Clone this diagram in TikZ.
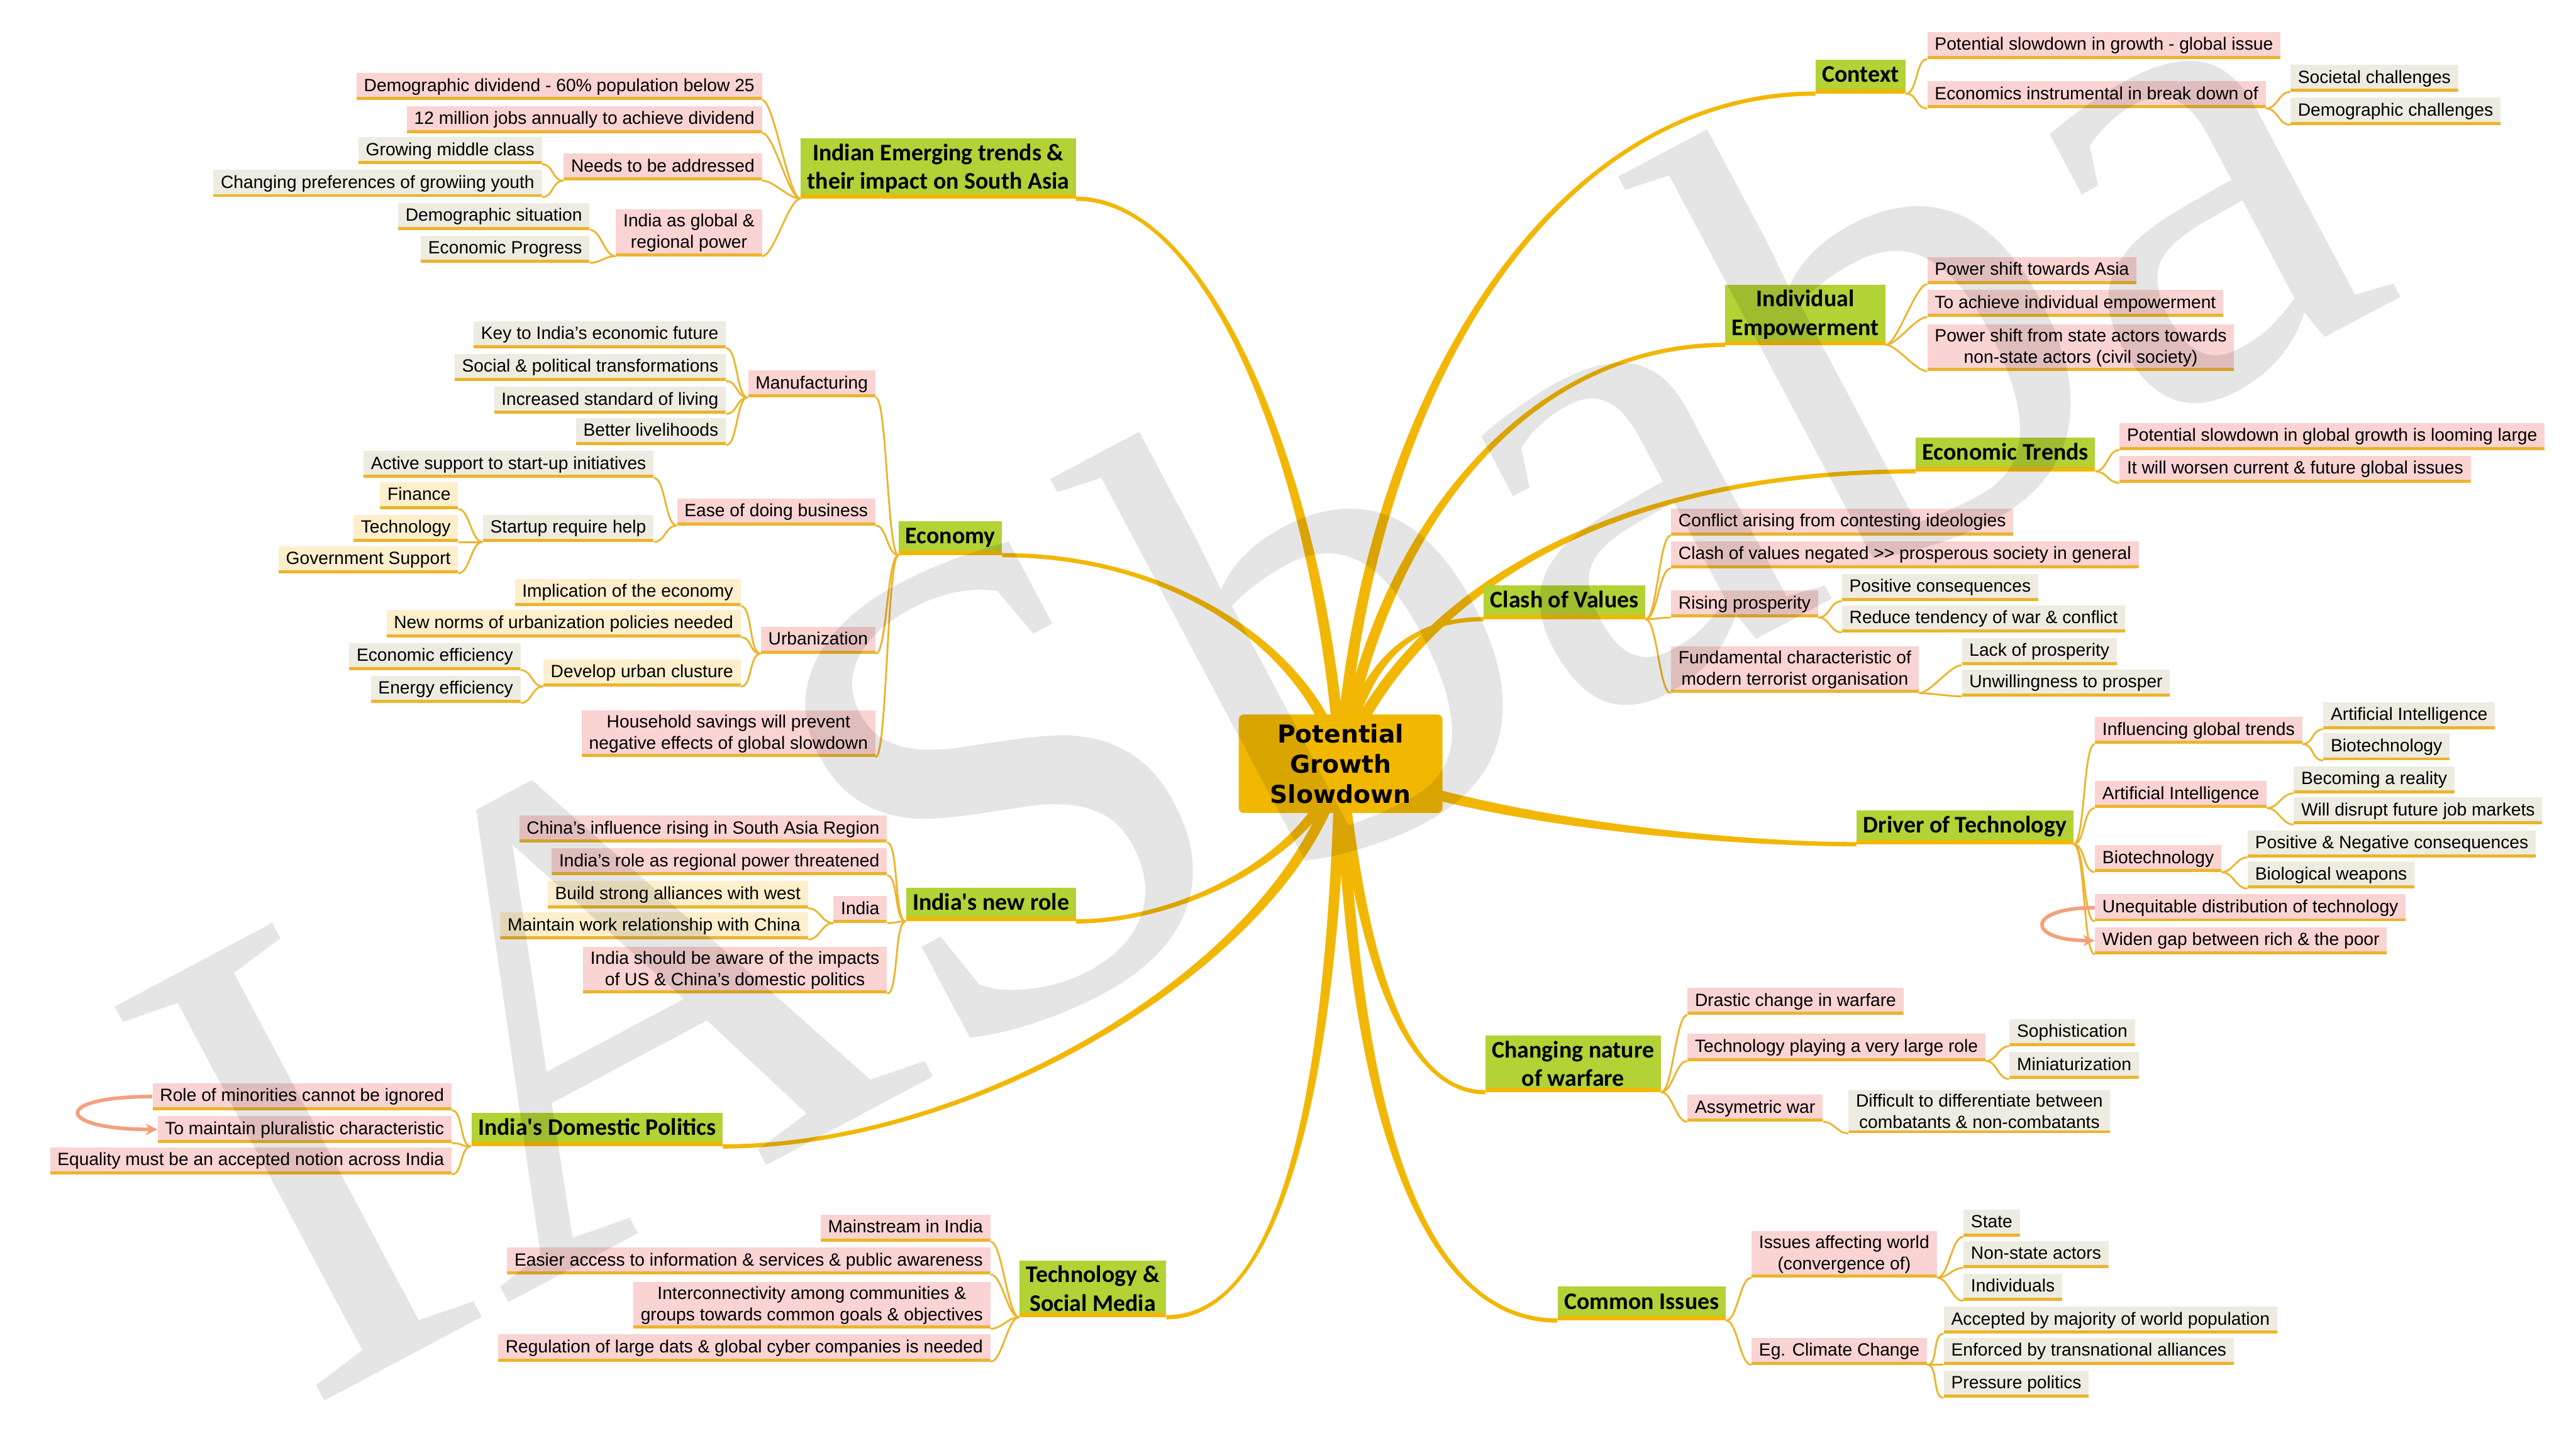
\documentclass[tikz,border=0pt]{standalone}
\usepackage{fontspec}
\setmainfont{Liberation Sans}
\newfontfamily\carlito{Carlito}
\newfontfamily\dejavu{DejaVu Sans}
\newfontfamily\wmserif{Liberation Serif}
\usetikzlibrary{calc,arrows.meta}
\pgfdeclarelayer{bg}
\pgfdeclarelayer{fg}
\pgfsetlayers{bg,main,fg}
\definecolor{maingold}{HTML}{F2B705}
\definecolor{leafline}{HTML}{EDB42C}
\definecolor{greenc}{HTML}{B2D235}
\definecolor{pinkc}{HTML}{FAD3D3}
\definecolor{beigec}{HTML}{EEECE1}
\definecolor{creamc}{HTML}{FDEFCB}
\definecolor{arrowc}{HTML}{F4A07C}
\definecolor{centerc}{HTML}{F2B800}
\tikzset{
  leaf/.style={font=\fontsize{10.8}{13}\selectfont, inner xsep=4.5pt, inner ysep=2.6pt,
    text height=8.5pt, text depth=2.6pt,
    path picture={\draw[leafline, line width=3.4pt] (path picture bounding box.south west) -- (path picture bounding box.south east);}},
  pk/.style={leaf, fill=pinkc},
  bg/.style={leaf, fill=beigec},
  cr/.style={leaf, fill=creamc},
  two/.style={align=center, text height={}, text depth={}},
  mainnode/.style={fill=greenc, font=\carlito\bfseries\fontsize{14.5}{17.5}\selectfont,
    inner xsep=4pt, inner ysep=3.3pt, text height=10.4pt, text depth=3.4pt,
    path picture={\draw[maingold, line width=5pt] (path picture bounding box.south west) -- (path picture bounding box.south east);}},
  centernode/.style={fill=centerc, rounded corners=3pt, font=\dejavu\bfseries\fontsize{15}{18.5}\selectfont,
    align=center, minimum width=124pt, minimum height=60pt, inner sep=3pt},
  leafconn/.style={leafline, line width=1.1pt},
  loop/.style={arrowc, line width=2.2pt, -{Stealth[length=7pt,width=7pt]}},
  L/.style={anchor=south east},
  R/.style={anchor=south west}
}
\newcommand\lkL[2]{\draw[leafconn] (#1.south west) .. controls +(-7,0) and +(7,0) .. (#2.south east);}
\newcommand\lkR[2]{\draw[leafconn] (#1.south east) .. controls +(7,0) and +(-7,0) .. (#2.south west);}
\newcommand\taperlink[4]{%
  \path ($(#1)!3.5pt!90:(#2)$) coordinate (tpA0) ($(#1)!3.5pt!-90:(#2)$) coordinate (tpB0)
        ($(#4)!1.3pt!-90:(#3)$) coordinate (tpA3) ($(#4)!1.3pt!90:(#3)$) coordinate (tpB3);
  \fill[maingold] (tpA0) .. controls ($(#2)+(tpA0)-(#1)$) and ($(#3)+(tpA3)-(#4)$) .. (tpA3)
     -- (tpB3) .. controls ($(#3)+(tpB3)-(#4)$) and ($(#2)+(tpB0)-(#1)$) .. (tpB0) -- cycle;}
\begin{document}
\begin{tikzpicture}[x=1pt,y=-1pt]
\useasboundingbox (0,0) rectangle (1568,871);
% ---------- center
\node[centernode] (cen) at (816,465) {Potential\\Growth\\Slowdown};
% ---------- LEFT: Indian emerging trends
\node[mainnode, two, L] (A) at (655,121) {Indian Emerging trends \&\\their impact on South Asia};
\node[pk, L] (A1) at (464,61) {Demographic dividend - 60\% population below 25};
\node[pk, L] (A2) at (464,81) {12 million jobs annually to achieve dividend};
\node[pk, L] (A3) at (464,110) {Needs to be addressed};
\node[bg, L] (A3a) at (330,100) {Growing middle class};
\node[bg, L] (A3b) at (330,120) {Changing preferences of growiing youth};
\node[pk, two, L] (A4) at (464,156) {India as global \&\\regional power};
\node[bg, L] (A4a) at (359,140) {Demographic situation};
\node[bg, L] (A4b) at (359,160) {Economic Progress};
% ---------- Economy
\node[mainnode, L] (B) at (610,338) {Economy};
\node[pk, L] (B1) at (533,242) {Manufacturing};
\node[bg, L] (B1a) at (442,212) {Key to India's economic future};
\node[bg, L] (B1b) at (442,232) {Social \& political transformations};
\node[bg, L] (B1c) at (442,252) {Increased standard of living};
\node[bg, L] (B1d) at (442,271) {Better livelihoods};
\node[pk, L] (B2) at (533,320) {Ease of doing business};
\node[bg, L] (B2a) at (398,291) {Active support to start-up initiatives};
\node[bg, L] (B2b) at (398,330) {Startup require help};
\node[cr, L] (B2b1) at (279,310) {Finance};
\node[cr, L] (B2b2) at (279,330) {Technology};
\node[cr, L] (B2b3) at (279,349) {Government Support};
\node[pk, L] (B3) at (533,398) {Urbanization};
\node[cr, L] (B3a) at (451,369) {Implication of the economy};
\node[cr, L] (B3b) at (451,388) {New norms of urbanization policies needed};
\node[cr, L] (B3c) at (451,418) {Develop urban clusture};
\node[bg, L] (B3c1) at (317,408) {Economic efficiency};
\node[bg, L] (B3c2) at (317,428) {Energy efficiency};
\node[pk, two, L] (B4) at (533,461) {Household savings will prevent\\negative effects of global slowdown};
% ---------- India's new role
\node[mainnode, L] (C) at (655,561) {India's new role};
\node[pk, L] (C1) at (540,513) {China's influence rising in South Asia Region};
\node[pk, L] (C2) at (540,533) {India's role as regional power threatened};
\node[pk, L] (C3) at (540,562) {India};
\node[cr, L] (C3a) at (492,553) {Build strong alliances with west};
\node[cr, L] (C3b) at (492,572) {Maintain work relationship with China};
\node[pk, two, L] (C4) at (540,605) {India should be aware of the impacts\\of US \& China's domestic politics};
% ---------- India's domestic politics
\node[mainnode, L] (D) at (440,698) {India's Domestic Politics};
\node[pk, L] (D1) at (275,676) {Role of minorities cannot be ignored};
\node[pk, L] (D2) at (275,696) {To maintain pluralistic characteristic};
\node[pk, L] (D3) at (275,715) {Equality must be an accepted notion across India};
% ---------- Technology & social media
\node[mainnode, two, L] (E) at (710,802) {Technology \&\\Social Media};
\node[pk, L] (E1) at (603,756) {Mainstream in India};
\node[pk, L] (E2) at (603,776) {Easier access to information \& services \& public awareness};
\node[pk, two, L] (E3) at (603,809) {Interconnectivity among communities \&\\groups towards common goals \& objectives};
\node[pk, L] (E4) at (603,829) {Regulation of large dats \& global cyber companies is needed};
% ---------- RIGHT: Context
\node[mainnode, R] (F) at (1105,57) {Context};
\node[pk, R] (F1) at (1173,36) {Potential slowdown in growth - global issue};
\node[pk, R] (F2) at (1173,66) {Economics instrumental in break down of};
\node[bg, R] (F2a) at (1394,56) {Societal challenges};
\node[bg, R] (F2b) at (1394,76) {Demographic challenges};
% ---------- Individual empowerment
\node[mainnode, two, R] (G) at (1050,210) {Individual\\Empowerment};
\node[pk, R] (G1) at (1173,173) {Power shift towards Asia};
\node[pk, R] (G2) at (1173,193) {To achieve individual empowerment};
\node[pk, two, R] (G3) at (1173,226) {Power shift from state actors towards\\non-state actors (civil society)};
% ---------- Economic trends
\node[mainnode, R] (H) at (1166,287) {Economic Trends};
\node[pk, R] (H1) at (1290,274) {Potential slowdown in global growth is looming large};
\node[pk, R] (H2) at (1290,294) {It will worsen current \& future global issues};
% ---------- Clash of values
\node[mainnode, R] (I) at (903,377) {Clash of Values};
\node[pk, R] (I1) at (1017,326) {Conflict arising from contesting ideologies};
\node[pk, R] (I2) at (1017,346) {Clash of values negated {>}{>} prosperous society in general};
\node[pk, R] (I3) at (1017,376) {Rising prosperity};
\node[bg, R] (I3a) at (1121,366) {Positive consequences};
\node[bg, R] (I3b) at (1121,385) {Reduce tendency of war \& conflict};
\node[pk, two, R] (I4) at (1017,422) {Fundamental characteristic of\\modern terrorist organisation};
\node[bg, R] (I4a) at (1194,405) {Lack of prosperity};
\node[bg, R] (I4b) at (1194,424) {Unwillingness to prosper};
% ---------- Driver of technology
\node[mainnode, R] (J) at (1130,514) {Driver of Technology};
\node[pk, R] (J1) at (1275,453) {Influencing global trends};
\node[bg, R] (J1a) at (1414,444) {Artificial Intelligence};
\node[bg, R] (J1b) at (1414,463) {Biotechnology};
\node[pk, R] (J2) at (1275,492) {Artificial Intelligence};
\node[bg, R] (J2a) at (1396,483) {Becoming a reality};
\node[bg, R] (J2b) at (1396,502) {Will disrupt future job markets};
\node[pk, R] (J3) at (1275,531) {Biotechnology};
\node[bg, R] (J3a) at (1368,522) {Positive \& Negative consequences};
\node[bg, R] (J3b) at (1368,541) {Biological weapons};
\node[pk, R] (J4) at (1275,561) {Unequitable distribution of technology};
\node[pk, R] (J5) at (1275,581) {Widen gap between rich \& the poor};
% ---------- Changing nature of warfare
\node[mainnode, two, R] (K) at (904,665) {Changing nature\\of warfare};
\node[pk, R] (K1) at (1027,618) {Drastic change in warfare};
\node[pk, R] (K2) at (1027,646) {Technology playing a very large role};
\node[bg, R] (K2a) at (1223,637) {Sophistication};
\node[bg, R] (K2b) at (1223,657) {Miniaturization};
\node[pk, R] (K3) at (1027,683) {Assymetric war};
\node[bg, two, R] (K3a) at (1125,690) {Difficult to differentiate between\\combatants \& non-combatants};
% ---------- Common issues
\node[mainnode, R] (M) at (948,804) {Common Issues};
\node[pk, two, R] (M1) at (1066,778) {Issues affecting world\\(convergence of)};
\node[bg, R] (M1a) at (1195,753) {State};
\node[bg, R] (M1b) at (1195,772) {Non-state actors};
\node[bg, R] (M1c) at (1195,792) {Individuals};
\node[pk, R] (M2) at (1066,831) {Eg. Climate Change};
\node[bg, R] (M2a) at (1183,812) {Accepted by majority of world population};
\node[bg, R] (M2b) at (1183,831) {Enforced by transnational alliances};
\node[bg, R] (M2c) at (1183,851) {Pressure politics};
% ---------- connectors
\begin{pgfonlayer}{bg}
\fill[white] (0,0) rectangle (1568,871);
\taperlink{cen}{805,300}{740,121}{A.south east}
\taperlink{cen}{800,400}{720,338}{B.south east}
\taperlink{cen}{800,520}{720,561}{C.south east}
\taperlink{cen}{790,580}{600,698}{D.south east}
\taperlink{cen}{812,620}{790,802}{E.south east}
\taperlink{cen}{830,250}{940,57}{F.south west}
\taperlink{cen}{840,320}{930,210}{G.south west}
\taperlink{cen}{860,360}{980,287}{H.south west}
\taperlink{cen}{830,400}{860,377}{I.south west}
\taperlink{cen}{900,500}{1050,514}{J.south west}
\taperlink{cen}{830,600}{860,665}{K.south west}
\taperlink{cen}{825,720}{880,804}{M.south west}
\foreach \c in {A1,A2,A3,A4} {\lkL{A}{\c}}
\foreach \c in {A3a,A3b} {\lkL{A3}{\c}}
\foreach \c in {A4a,A4b} {\lkL{A4}{\c}}
\foreach \c in {B1,B2,B3,B4} {\lkL{B}{\c}}
\foreach \c in {B1a,B1b,B1c,B1d} {\lkL{B1}{\c}}
\foreach \c in {B2a,B2b} {\lkL{B2}{\c}}
\foreach \c in {B2b1,B2b2,B2b3} {\lkL{B2b}{\c}}
\foreach \c in {B3a,B3b,B3c} {\lkL{B3}{\c}}
\foreach \c in {B3c1,B3c2} {\lkL{B3c}{\c}}
\foreach \c in {C1,C2,C3,C4} {\lkL{C}{\c}}
\foreach \c in {C3a,C3b} {\lkL{C3}{\c}}
\foreach \c in {D1,D2,D3} {\lkL{D}{\c}}
\foreach \c in {E1,E2,E3,E4} {\lkL{E}{\c}}
\foreach \c in {F1,F2} {\lkR{F}{\c}}
\foreach \c in {F2a,F2b} {\lkR{F2}{\c}}
\foreach \c in {G1,G2,G3} {\lkR{G}{\c}}
\foreach \c in {H1,H2} {\lkR{H}{\c}}
\foreach \c in {I1,I2,I3,I4} {\lkR{I}{\c}}
\foreach \c in {I3a,I3b} {\lkR{I3}{\c}}
\foreach \c in {I4a,I4b} {\lkR{I4}{\c}}
\foreach \c in {J1,J2,J3,J4,J5} {\lkR{J}{\c}}
\foreach \c in {J1a,J1b} {\lkR{J1}{\c}}
\foreach \c in {J2a,J2b} {\lkR{J2}{\c}}
\foreach \c in {J3a,J3b} {\lkR{J3}{\c}}
\foreach \c in {K1,K2,K3} {\lkR{K}{\c}}
\foreach \c in {K2a,K2b} {\lkR{K2}{\c}}
\foreach \c in {K3a} {\lkR{K3}{\c}}
\foreach \c in {M1,M2} {\lkR{M}{\c}}
\foreach \c in {M1a,M1b,M1c} {\lkR{M1}{\c}}
\foreach \c in {M2a,M2b,M2c} {\lkR{M2}{\c}}
\end{pgfonlayer}
% ---------- loop arrows
\draw[loop] (D1.west) .. controls +(-62,0) and +(-62,0) .. (D2.west);
\draw[loop] (J4.west) .. controls +(-42,0) and +(-42,0) .. (J5.west);
% ---------- watermark
\begin{pgfonlayer}{fg}
\node[text=black, text opacity=0.1, rotate=28, inner sep=0, anchor=base west,
  font=\wmserif\fontsize{415}{415}\selectfont] (wm) at (184,860) {IASbaba};
\end{pgfonlayer}
\end{tikzpicture}
\end{document}
